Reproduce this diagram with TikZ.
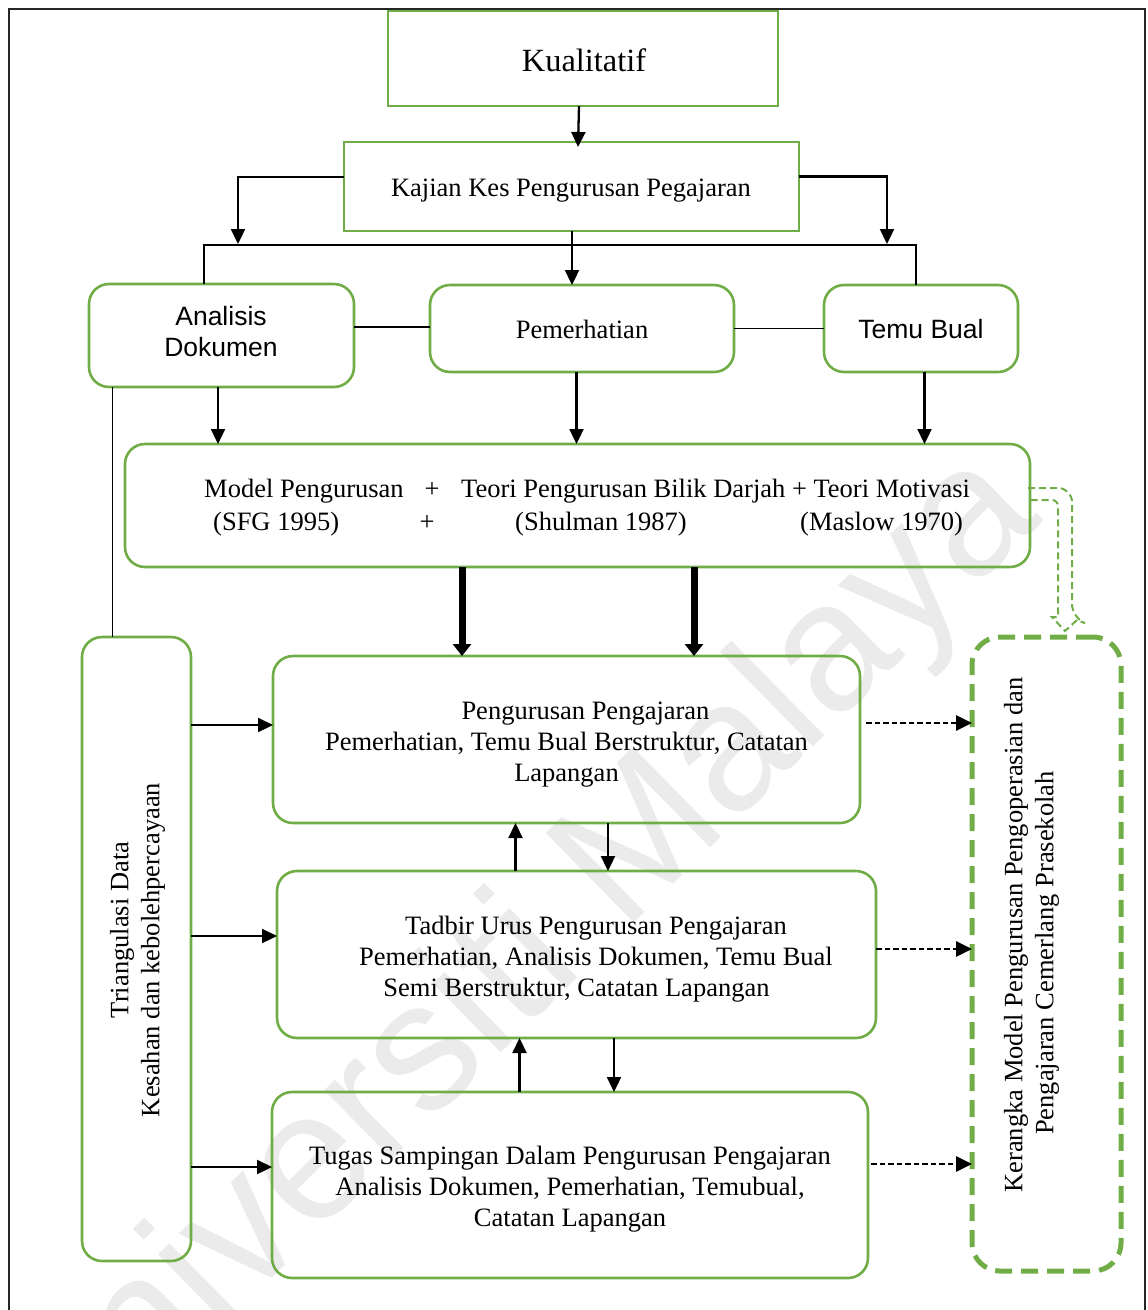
\documentclass[tikz,border=0pt]{standalone}
\usepackage{fontspec}
\setmainfont{Liberation Serif}
\newfontfamily\arialf{Liberation Sans}
\usetikzlibrary{arrows.meta,calc}
\definecolor{gr}{HTML}{70AD47}
\definecolor{wm}{HTML}{EBEBEB}
\begin{document}
\begin{tikzpicture}[x=1pt,y=-1pt,
  gbox/.style={draw=gr,line width=2.6pt,inner sep=0pt,outer sep=0pt},
  rbox/.style={gbox,rounded corners=20pt},
  lbl/.style={font=\fontsize{26.5}{31}\selectfont,inner sep=0pt,align=center},
  slbl/.style={lbl,font=\arialf\fontsize{26.5}{31}\selectfont},
  arr/.style={line width=2.3pt,-{Triangle[length=15pt,width=14pt]}},
  tharr/.style={line width=7pt,-{Triangle[length=12pt,width=18pt]}},
  conn/.style={line width=1.3pt},
  darr/.style={line width=2.8pt,dash pattern=on 5.5pt off 3pt,-{Triangle[length=16pt,width=15pt]}},
  rdash/.style={draw=gr,line width=5pt,dash pattern=on 17pt off 9pt,rounded corners=28pt,inner sep=0pt,outer sep=0pt},
  hol/.style={draw=gr,line width=2pt,dash pattern=on 7pt off 4pt},
]
\useasboundingbox (0,0) rectangle (1148,1310);
% watermark
\node[font=\arialf\fontsize{183}{183}\selectfont,text=wm,rotate=44.5,inner sep=0pt] (wmk) at (514,974) {Universiti Malaya};
% outer frame
\draw[line width=1.4pt,black!85] (9,1330) -- (9,9) -- (1145,9) -- (1145,1330);

% top boxes
\node[gbox,minimum width=390,minimum height=95] (kual) at (583,58.5) {};
\node[lbl,font=\fontsize{32.4}{36}\selectfont] (kualt) at (584,60.5) {Kualitatif};
\node[gbox,minimum width=455,minimum height=89] (kaj) at (571.5,186.5) {};
\node[lbl] (kajt) at (571,191) {Kajian Kes Pengurusan Pegajaran};

\node[rbox,minimum width=265,minimum height=103] (ana) at (221.5,335.5) {};
\node[slbl] (anat) at (221,331.5) {Analisis\\Dokumen};
\node[rbox,minimum width=304,minimum height=87] (pem) at (582,328.5) {};
\node[lbl] (pemt) at (582,329.5) {Pemerhatian};
\node[rbox,minimum width=194,minimum height=87] (temu) at (921,328.5) {};
\node[slbl] (temut) at (921,329.5) {Temu Bual};

\node[rbox,minimum width=905,minimum height=123] (model) at (577.5,505.5) {};
\node[lbl,anchor=base west] (m1) at (204,497) {Model Pengurusan};
\node[lbl,anchor=base] (m2) at (432,497) {+};
\node[lbl,anchor=base west] (m3) at (461,497) {Teori Pengurusan Bilik Darjah + Teori Motivasi};
\node[lbl,anchor=base west] (m4) at (213,530) {(SFG 1995)};
\node[lbl,anchor=base] (m5) at (427,530) {+};
\node[lbl,anchor=base west] (m6) at (515,530) {(Shulman 1987)};
\node[lbl,anchor=base west] (m7) at (800,530) {(Maslow 1970)};

\node[rbox,minimum width=109,minimum height=624] (tri) at (136.5,949) {};
\node[lbl,rotate=90] (ttxt) at (137.5,950) {\hspace*{40pt}Triangulasi Data\\Kesahan dan kebolehpercayaan};

\node[rbox,minimum width=587,minimum height=167] (b1) at (566.5,739.5) {};
\node[lbl] (b1t) at (566.5,744.5) {\hspace*{38pt}Pengurusan Pengajaran\\Pemerhatian, Temu Bual Berstruktur, Catatan\\Lapangan};
\node[rbox,minimum width=599,minimum height=167] (b2) at (576.5,954.5) {};
\node[lbl] (b2t) at (576.5,959.5) {\hspace*{39pt}Tadbir Urus Pengurusan Pengajaran\\\hspace*{39pt}Pemerhatian, Analisis Dokumen, Temu Bual\\Semi Berstruktur, Catatan Lapangan};
\node[rbox,minimum width=596,minimum height=186] (b3) at (570,1185) {};
\node[lbl] (b3t) at (570,1189) {Tugas Sampingan Dalam Pengurusan Pengajaran\\Analisis Dokumen, Pemerhatian, Temubual,\\Catatan Lapangan};

\node[rdash,minimum width=149,minimum height=634] (rt) at (1046.5,954) {};
\node[lbl,rotate=90] (rtxt) at (1031.5,935) {Kerangka Model Pengurusan Pengoperasian dan\\Pengajaran Cemerlang Prasekolah\hspace*{36pt}};

% connectors top
\coordinate (busL) at (204,245);
\coordinate (busR) at (916,245);
\draw[arr] ([xshift=-4pt]kual.south) -- ([xshift=6.5pt,yshift=-5pt]kaj.north);
\draw[arr] ([yshift=9.5pt]kaj.west) -| (238,244);
\draw[arr] ([yshift=10pt]kaj.east) -| (887,244);
\draw[conn] (ana.north -| busL) -- (busL) -- (busR) -- (temu.north -| busR);
\draw[arr] ([xshift=0.5pt]kaj.south) -- ([xshift=0.5pt]kaj.south |- pem.north);
\draw[conn] ([yshift=8.5pt]ana.east) -- ([yshift=1.5pt]pem.west);
\draw[conn] (pem.east) -- (temu.west);
\draw[arr] ([xshift=-3.5pt]ana.south) -- ([xshift=-3.5pt]ana.south |- model.north);
\draw[arr] ([xshift=-5.5pt]pem.south) -- ([xshift=-5.5pt]pem.south |- model.north);
\draw[arr] ([xshift=3.5pt]temu.south) -- ([xshift=3.5pt]temu.south |- model.north);
% thick arrows
\draw[tharr] ([xshift=-115.5pt]model.south) -- ([xshift=-115.5pt]model.south |- b1.north);
\draw[tharr] ([xshift=116.5pt]model.south) -- ([xshift=116.5pt]model.south |- b1.north);
% left line
\draw[line width=1pt] ([xshift=-24.5pt]tri.north) -- ([xshift=-24.5pt]tri.north |- ana.south);
% triangulation arrows
\draw[arr] (tri.east |- 0,725) -- (b1.west |- 0,725);
\draw[arr] (tri.east |- 0,936) -- (b2.west |- 0,936);
\draw[arr] (tri.east |- 0,1167) -- (b3.west |- 0,1167);
% between boxes
\draw[arr] (b2.north -| 515.5,0) -- (b1.south -| 515.5,0);
\draw[arr] (b1.south -| 608,0) -- (b2.north -| 608,0);
\draw[arr] (b3.north -| 519.5,0) -- (b2.south -| 519.5,0);
\draw[arr] (b2.south -| 614,0) -- (b3.north -| 614,0);
% dashed arrows
\draw[darr] ($(b1.east |- 0,723)+(6,0)$) -- (rt.west |- 0,723);
\draw[darr] (b2.east |- 0,949) -- (rt.west |- 0,949);
\draw[darr] ($(b3.east |- 0,1164)+(3,0)$) -- (rt.west |- 0,1164);
% hollow dashed arrow
\draw[hol,rounded corners=14pt] (1028,488) -- (1072,488) -- (1072,618) [sharp corners] -- (1077,620) -- (1065,631) -- (1052,617) -- (1058,617) [rounded corners=6pt] -- (1058,500) -- (1028,500);
\end{tikzpicture}
\end{document}
